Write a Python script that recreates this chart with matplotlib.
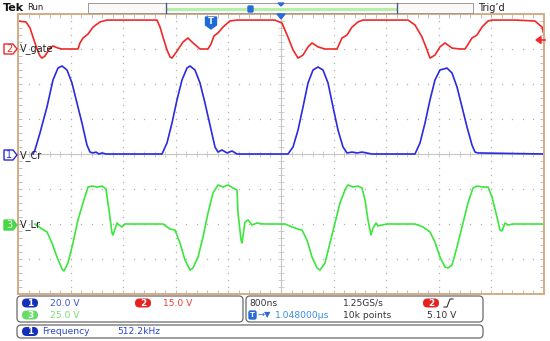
import numpy as np
import matplotlib
matplotlib.use("Agg")
import matplotlib.pyplot as plt
from matplotlib.patches import FancyBboxPatch, Polygon, Rectangle

# time in ns relative to trigger, voltages in V
gate_t = [-4000, -3879, -3817, -3772, -3711, -3666, -3635, -3590, -3514, -3468, -3392, -3331, -3088, -3057, -3012, -2935, -2859, -2753, -2646,
          -1886, -1840, -1795, -1734, -1688, -1658, -1582, -1491, -1415, -1338, -1232, -1110, -1065, -1019, -958, -882, -776, -669,
          -91, 15, 106, 183, 259, 335, 411, 472, 563, 669, 852, 928, 1004, 1080, 1171, 1247,
          1932, 2038, 2145, 2221, 2266, 2342, 2418, 2494, 2601, 2723, 2799, 2905, 2981, 3057, 3148, 3209,
          3559, 3863, 3970, 4000]
gate_v = [12.0, 11.6, 9.0, 5.1, 0.0, -3.0, -3.9, -3.0, 0.4, 1.3, 0.4, 0.0, 0.0, 2.6, 4.7, 6.4, 9.4, 11.6, 12.4,
          12.4, 9.4, 5.1, -0.4, -3.4, -3.9, -0.9, 3.0, 4.7, 2.6, 0.0, 0.0, 2.1, 5.6, 6.9, 9.4, 12.0, 12.4,
          12.4, 11.1, 5.1, -0.4, -3.9, -2.6, 0.9, 2.6, 0.9, 0.0, 0.0, 4.7, 6.0, 9.4, 11.6, 12.4,
          12.4, 10.3, 5.1, -0.4, -3.9, -2.6, 0.9, 2.6, 0.4, 0.0, 0.0, 4.7, 6.0, 9.4, 12.0, 12.4,
          12.4, 12.0, 9.4, 6.0]

cr_t = [-3772, -3742, -3666, -3559, -3468, -3392, -3331, -3255, -3179, -3103, -3027, -2951, -2905, -2859, -2814, -2768, -2722, -2662, -1810,
        -1734, -1658, -1582, -1506, -1430, -1384, -1308, -1232, -1156, -1080, -1004, -958, -897, -821, -745, -669, 106,
        183, 259, 335, 411, 487, 563, 639, 715, 791, 867, 943, 1004, 1080, 1156, 1232, 1384, 2038,
        2114, 2190, 2266, 2342, 2418, 2525, 2601, 2677, 2753, 2829, 2905, 2951, 2996, 4000]
cr_v = [0.0, 2.3, 12.0, 26.9, 42.3, 49.1, 50.3, 48.0, 40.6, 29.1, 17.7, 5.1, 1.1, 0.6, 1.1, 0.0, 0.6, 0.0, 0.0,
        6.3, 17.7, 30.9, 42.3, 49.1, 50.3, 48.0, 40.6, 29.1, 16.6, 4.0, 1.1, 2.3, 0.6, 1.7, 0.0, 0.0,
        4.0, 13.7, 26.9, 40.6, 48.0, 49.7, 48.0, 40.6, 26.9, 13.7, 4.0, 0.6, 1.1, 0.6, 1.1, 0.0, 0.0,
        6.3, 17.7, 30.9, 42.3, 48.0, 49.1, 46.3, 38.3, 26.9, 15.4, 5.1, 1.1, 0.6, 0.0]

lr_t = [-3742, -3635, -3559, -3483, -3407, -3331, -3301, -3240, -3164, -3088, -3012, -2935, -2874, -2798, -2722, -2662, -2616, -2570, -2555, -2494, -2464, -2418, -2373, -1795,
        -1688, -1612, -1536, -1460, -1384, -1338, -1262, -1186, -1110, -1034, -958, -882, -806, -730, -669, -654, -608, -593, -548, -502, -441, -365, -274, 61,
        167, 259, 319, 395, 472, 548, 593, 669, 745, 821, 897, 973, 1019, 1095, 1171, 1232, 1278, 1323, 1369, 1399, 1445, 1475, 1536, 1612, 2038,
        2160, 2266, 2342, 2418, 2494, 2540, 2601, 2677, 2753, 2844, 2920, 2981, 3072, 3148, 3209, 3285, 3331, 3361, 3407, 3452, 3529, 4000]
lr_v = [0.0, -3.6, -5.7, -13.6, -23.6, -32.1, -33.6, -27.9, -13.6, 2.9, 15.0, 26.4, 27.1, 26.4, 27.1, 25.0, 10.0, -6.4, -7.9, 0.7, -0.7, -2.1, 0.0, 0.0,
        -3.6, -4.3, -13.6, -25.7, -32.9, -31.4, -23.6, -9.3, 7.9, 22.1, 27.9, 26.4, 27.9, 25.7, 24.3, 7.9, -11.4, -13.6, 1.4, 2.9, -0.7, 0.7, 0.0, 0.0,
        -2.1, -3.6, -4.3, -11.4, -23.6, -31.4, -32.9, -27.9, -13.6, 0.7, 15.0, 24.3, 27.9, 26.4, 27.1, 25.7, 17.1, 2.9, -7.9, -2.9, 0.7, -1.4, -0.7, 0.0, 0.0,
        -2.1, -5.7, -12.9, -23.6, -30.7, -31.4, -29.3, -16.4, -2.1, 15.0, 25.7, 27.1, 26.4, 26.4, 19.3, 5.0, -4.3, -5.0, 0.7, -0.7, 0.0, 0.0]

# channel settings: V/div and ground position in divisions
gate_scale, gate_pos = 15.0, 3.0
cr_scale, cr_pos = 20.0, 0.0
lr_scale, lr_pos = 25.0, -2.0

RED = "#f02828"
BLUE = "#2a2ae0"
GREEN = "#3ce63c"

W, H = 550, 341
fig = plt.figure(figsize=(W / 100, H / 100), dpi=100)
fig.patch.set_facecolor("white")

# graticule: 10 x 8 divisions
x0, x1, y0, y1 = 18, 544, 14, 294
ax = fig.add_axes([x0 / W, (H - y1) / H, (x1 - x0) / W, (y1 - y0) / H])
ax.set_xlim(-4000, 4000)
ax.set_ylim(-4, 4)

xmaj = np.arange(-4000, 4001, 800)
ymaj = np.arange(-4, 5, 1)
xmin = np.arange(-4000, 4001, 160)
ymin = np.linspace(-4, 4, 41)
ax.set_xticks(xmaj)
ax.set_yticks(ymaj)
ax.set_xticks(xmin, minor=True)
ax.set_yticks(ymin, minor=True)
ax.tick_params(which="both", direction="in", length=3, width=0.6, color="#b4b4b4",
               top=True, right=True, labelbottom=False, labelleft=False)
for s in ax.spines.values():
    s.set_color("#d6ab86")
    s.set_linewidth(1.4)

for x in xmaj[1:-1]:
    if x != 0:
        ax.plot(np.full(len(ymin), x), ymin, ls="none", marker="s", ms=0.9, mew=0, color="#b0b0b0")
for y in ymaj[1:-1]:
    if y != 0:
        ax.plot(xmin, np.full(len(xmin), y), ls="none", marker="s", ms=0.9, mew=0, color="#b0b0b0")
ax.axhline(0, color="#c4c4c4", lw=0.8)
ax.axvline(0, color="#c4c4c4", lw=0.8)
ax.vlines(xmin, -0.08, 0.08, color="#c4c4c4", lw=0.6)
ax.hlines(ymin, -45, 45, color="#c4c4c4", lw=0.6)

ax.plot(gate_t, np.array(gate_v) / gate_scale + gate_pos, color=RED, lw=1.2)
ax.plot(cr_t, np.array(cr_v) / cr_scale + cr_pos, color=BLUE, lw=1.2)
ax.plot(lr_t, np.array(lr_v) / lr_scale + lr_pos, color=GREEN, lw=1.2)

# overlay in pixel coordinates for the scope decorations
ov = fig.add_axes([0, 0, 1, 1])
ov.set_xlim(0, W)
ov.set_ylim(H, 0)
ov.axis("off")

ov.text(3, 8, "Tek", fontsize=8, fontweight="bold", va="center", ha="left", color="#111111")
ov.text(27, 8, "Run", fontsize=6, va="center", ha="left", color="#222222")
ov.add_patch(Rectangle((88, 3), 385, 10, facecolor="#fbf8f8", edgecolor="#9a9a9a", lw=0.7))
ov.add_patch(Rectangle((166, 7.5), 231, 3, facecolor="#b6f0a6", edgecolor="none"))
ov.plot([166, 166], [3, 13], color="#4a5a8a", lw=1)
ov.plot([397, 397], [3, 13], color="#4a5a8a", lw=1)
ov.add_patch(Polygon([(278, 3), (284, 3), (281, 6)], color="#2a6ad6"))
ov.add_patch(FancyBboxPatch((248, 6), 5, 6, boxstyle="round,pad=0,rounding_size=1", color="#2a6ad6"))
ov.text(478, 8, "Trig\u2019d", fontsize=7, va="center", ha="left", color="#222222")

# trigger markers
ov.add_patch(Polygon([(277, 14), (285, 14), (281, 19)], color="#2a6ad6"))
ov.add_patch(Polygon([(205.5, 17), (216.5, 17), (216.5, 25), (211, 29), (205.5, 25)], color="#1f6ad6"))
ov.text(211, 22, "T", fontsize=6, fontweight="bold", color="white", ha="center", va="center")
ov.add_patch(Polygon([(536, 40), (541, 36.5), (541, 43.5)], color=RED))
ov.plot([540, 545], [40, 40], color=RED, lw=1.2)

# channel markers and labels
def ch_marker(y, num, color, filled):
    pts = [(4, y - 5), (13, y - 5), (17, y), (13, y + 5), (4, y + 5)]
    ov.add_patch(Polygon(pts, closed=True, facecolor=color if filled else "white",
                         edgecolor=color, lw=1))
    ov.text(9.5, y + 0.5, num, fontsize=7, color="white" if filled else color,
            ha="center", va="center")

ch_marker(49, "2", RED, False)
ch_marker(155, "1", BLUE, False)
ch_marker(225, "3", "#44d844", True)
ov.text(20, 49, "V_gate", fontsize=7, va="center", ha="left", color="#222222")
ov.text(20, 156, "V_Cr", fontsize=7, va="center", ha="left", color="#222222")
ov.text(20, 225, "V_Lr", fontsize=7, va="center", ha="left", color="#222222")

# readout panel
def box(x, y, w, h):
    ov.add_patch(FancyBboxPatch((x, y), w, h, boxstyle="round,pad=0,rounding_size=4",
                                facecolor="white", edgecolor="#6a6a6a", lw=0.9))

def pill(x, y, num, color):
    ov.add_patch(FancyBboxPatch((x - 8, y - 4.5), 16, 9, boxstyle="round,pad=0,rounding_size=4.5",
                                facecolor=color, edgecolor="none"))
    ov.text(x, y + 0.3, num, fontsize=6.5, fontweight="bold", color="white", ha="center", va="center")

box(17, 296, 226, 26)
box(246, 296, 237, 26)
box(17, 325, 466, 13)

fs = 6.6
pill(30, 303, "1", "#1530b8")
ov.text(50, 303, "20.0 V", fontsize=fs, color="#3a55d6", va="center")
pill(143, 303, "2", "#e82020")
ov.text(163, 303, "15.0 V", fontsize=fs, color="#ee3a3a", va="center")
pill(30, 315, "3", "#66dd66")
ov.text(50, 315, "25.0 V", fontsize=fs, color="#7ada7a", va="center")

ov.text(249, 303, "800ns", fontsize=fs, color="#333333", va="center")
ov.text(343, 303, "1.25GS/s", fontsize=fs, color="#333333", va="center")
pill(431, 303, "2", "#e82020")
ov.plot([444, 447, 450, 453], [307, 307, 299, 299], color="#333333", lw=0.8)
ov.add_patch(FancyBboxPatch((249, 311), 7, 8, boxstyle="round,pad=0,rounding_size=1.5", color="#2a6ad6"))
ov.text(252.5, 315.2, "T", fontsize=5, fontweight="bold", color="white", ha="center", va="center")
ov.text(257, 315, "\u2192\u25bc", fontsize=6, color="#2a6ad6", va="center")
ov.text(275, 315, "1.048000\u00b5s", fontsize=fs, color="#3a8ae8", va="center")
ov.text(343, 315, "10k points", fontsize=fs, color="#333333", va="center")
ov.text(427, 315, "5.10 V", fontsize=fs, color="#333333", va="center")

pill(30, 331.5, "1", "#1530b8")
ov.text(42, 331.5, "Frequency", fontsize=fs, color="#2a48c8", va="center")
ov.text(117, 331.5, "512.2kHz", fontsize=fs, color="#2a48c8", va="center")

fig.savefig("out.png", dpi=100)
